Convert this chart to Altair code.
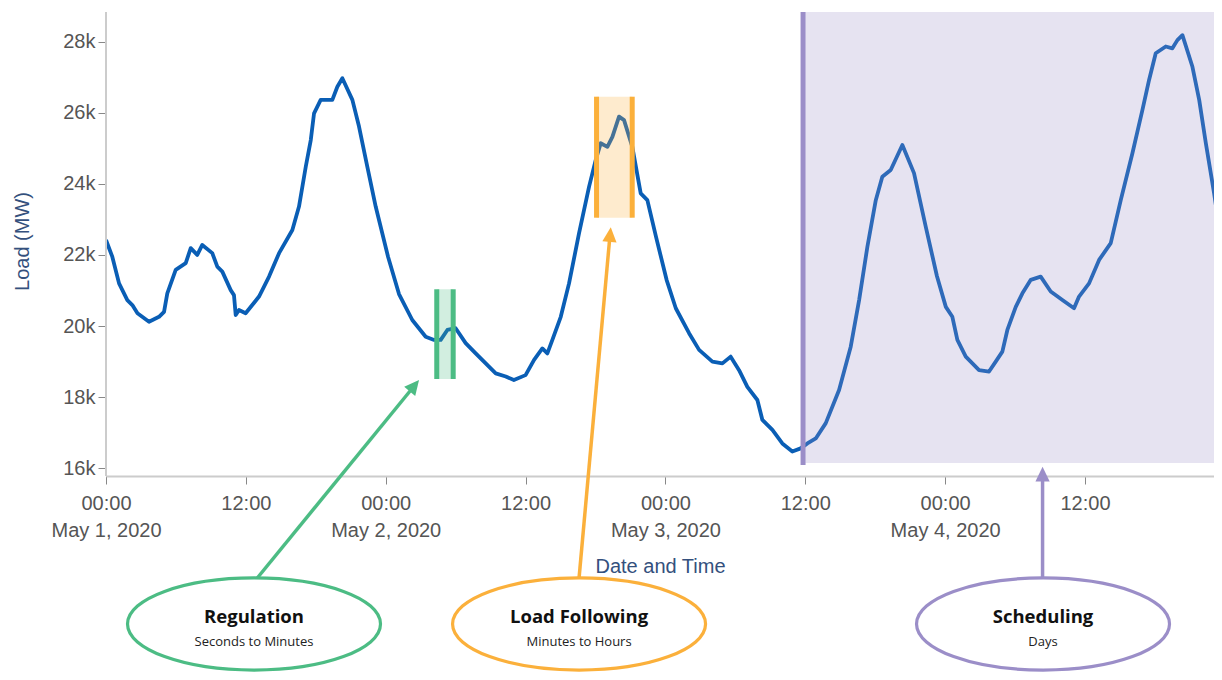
import altair as alt
import pandas as pd

# ---------------- data ----------------
T0 = pd.Timestamp("2020-05-01 00:00:00")

hours = [0.0, 0.54, 1.12, 1.83, 2.26, 2.7, 3.69, 4.55, 4.98, 5.26, 5.98, 6.84, 7.27, 7.83,
         8.26, 9.12, 9.55, 9.98, 10.7, 10.98, 11.13, 11.41, 11.98, 12.55, 13.13, 13.99,
         14.85, 15.99, 16.56, 17.14, 17.57, 17.85, 18.42, 19.42, 19.85, 20.28, 21.14,
         21.71, 22.42, 23.14, 24.2, 25.14, 26.28, 27.43, 28.15, 28.72, 29.29, 30.0,
         30.86, 31.72, 32.58, 33.44, 34.3, 35.0, 36.0, 36.73, 37.44, 37.87, 38.3, 39.02,
         39.73, 40.59, 41.45, 42.02, 42.45, 43.02, 43.45, 44.02, 44.45, 45.16, 45.88,
         46.45, 47.2, 48.1, 48.89, 50.03, 50.89, 52.03, 52.89, 53.6, 54.32, 55.03, 55.89,
         56.32, 57.18, 58.03, 58.89, 59.6, 60.18, 60.9, 61.76, 62.9, 63.9, 64.62, 65.33,
         66.05, 66.61, 67.33, 68.33, 69.33, 70.34, 71.3, 72.06, 72.62, 73.05, 73.77,
         74.91, 75.77, 76.34, 76.91, 77.34, 78.06, 78.63, 79.35, 80.2, 81.06, 82.06,
         83.06, 83.49, 84.35, 85.21, 86.21, 87.07, 88.07, 88.93, 89.5, 90.07, 90.93,
         91.5, 91.93, 92.36, 93.22, 93.8, 94.37, 95.08, 95.68]
load_mw = [22420, 21950, 21200, 20730, 20590, 20360, 20120, 20260, 20400, 20920, 21580, 21770,
           22190, 22000, 22280, 22050, 21670, 21530, 21010, 20870, 20310, 20450, 20360,
           20590, 20830, 21390, 22050, 22700, 23360, 24480, 25230, 25980, 26360, 26360,
           26730, 26970, 26360, 25610, 24480, 23360, 21950, 20900, 20170, 19700, 19610,
           19610, 19890, 19940, 19520, 19230, 18950, 18670, 18580, 18480, 18620, 19050,
           19370, 19230, 19610, 20260, 21200, 22610, 23920, 24670, 25140, 25040, 25320,
           25890, 25790, 25040, 23730, 23540, 22500, 21300, 20500, 19800, 19330, 19000,
           18950, 19140, 18760, 18290, 17920, 17360, 17080, 16700, 16470, 16560, 16700,
           16840, 17270, 18200, 19420, 20730, 22230, 23540, 24200, 24390, 25090, 24300,
           22790, 21400, 20540, 20260, 19610, 19140, 18760, 18720, 19000, 19280, 19890,
           20540, 20920, 21300, 21390, 20970, 20730, 20500, 20830, 21200, 21860, 22330,
           23540, 24860, 26080, 26920, 27670, 27860, 27810, 28040, 28180, 27290, 26360,
           25140, 23730, 22420]

x_end_h = 95.07              # right edge of the visible time window
y_ticks = [16000, 18000, 20000, 22000, 24000, 26000, 28000]
x_tick_hours = [0, 12, 24, 36, 48, 60, 72, 84]
y_domain = [10272, 28831]
x_axis_load = 15783          # load level where the time axis sits

# highlighted windows (rects)
win_start_h = [28.38, 42.09, 60.0]
win_end_h = [29.79, 45.15, x_end_h]
win_low = [18511, 23047, 16149]
win_high = [21034, 26449, 28831]
win_color = ["#4cbc84", "#fbb03b", "#9b8ec8"]

# solid edge bars
bar_h = [28.38, 29.79, 42.09, 45.15, 59.81]
bar_low = [18511, 18511, 23047, 23047, 16093]
bar_high = [21034, 21034, 26449, 26449, 28831]
bar_color = ["#4cbc84", "#4cbc84", "#fbb03b", "#fbb03b", "#9b8ec8"]

# arrows
arrow_from_h = [12.98, 40.59, 80.36]
arrow_from_load = [12915, 12915, 12915]
arrow_to_h = [26.09, 43.20, 80.36]
arrow_to_load = [18174, 22397, 15671]
tip_h = [26.86, 43.31, 80.36]
tip_load = [18483, 22777, 16045]
tip_angle = [39.4, 5.1, 0.0]

# ellipses and their labels
ell_h = [12.70, 40.59, 80.40]
ell_load = [11622, 11622, 11622]
ell_title = ["Regulation", "Load Following", "Scheduling"]
ell_sub = ["Seconds to Minutes", "Minutes to Hours", "Days"]
title_load = [11640, 11640, 11640]
sub_load = [11010, 11010, 11010]


def ts(h):
    return T0 + pd.to_timedelta(h, unit="h")


def dt(h):
    t = ts(h)
    return alt.DateTime(year=t.year, month=t.month, date=t.day,
                        hours=t.hour, minutes=t.minute, seconds=t.second)


line_df = pd.DataFrame({"time": [ts(h) for h in hours], "load": load_mw})
win_df = pd.DataFrame({"t1": [ts(h) for h in win_start_h], "t2": [ts(h) for h in win_end_h],
                       "low": win_low, "high": win_high, "color": win_color})
bar_df = pd.DataFrame({"time": [ts(h) for h in bar_h], "low": bar_low, "high": bar_high,
                       "color": bar_color})
arrow_df = pd.DataFrame({"t1": [ts(h) for h in arrow_from_h], "l1": arrow_from_load,
                         "t2": [ts(h) for h in arrow_to_h], "l2": arrow_to_load,
                         "tt": [ts(h) for h in tip_h], "lt": tip_load, "angle": tip_angle,
                         "color": win_color})
ell_df = pd.DataFrame({"time": [ts(h) for h in ell_h], "load": ell_load, "color": win_color,
                       "title": ell_title, "sub": ell_sub, "tl": title_load, "sl": sub_load})
yaxis_df = pd.DataFrame({"time": [T0], "low": [x_axis_load], "high": [y_domain[1]]})

FONT = "Liberation Sans"
TITLE_COLOR = "#34507d"
LABEL_COLOR = "#555555"

x_scale = alt.Scale(domain=[dt(0), dt(x_end_h)])
y_scale = alt.Scale(domain=y_domain, nice=False, zero=False)

x_enc = alt.X(
    "time:T", scale=x_scale,
    axis=alt.Axis(
        title="Date and Time", values=[dt(h) for h in x_tick_hours],
        labelExpr="hours(datum.value) == 0 ? [timeFormat(datum.value, '%H:%M'), timeFormat(datum.value, '%b %-d, %Y')] : timeFormat(datum.value, '%H:%M')",
        offset=-196, tickSize=8, labelPadding=9, labelFontSize=20, labelFont=FONT,
        labelColor=LABEL_COLOR, labelLineHeight=27, labelFlush=False,
        titleFont=FONT, titleFontSize=20, titleFontWeight="normal", titleColor=TITLE_COLOR,
        titlePadding=16, domainColor="#cccccc", domainWidth=2, tickColor="#888888",
        grid=False,
    ),
)
y_enc = alt.Y(
    "load:Q", scale=y_scale,
    axis=alt.Axis(
        title="Load (MW)", values=y_ticks, format="~s", domain=False, grid=False,
        tickSize=8, labelPadding=3, labelFontSize=20, labelFont=FONT, labelColor=LABEL_COLOR,
        tickColor="#888888", titleFont=FONT, titleFontSize=20, titleFontWeight="normal",
        titleColor=TITLE_COLOR, titlePadding=30, titleY=229,
    ),
)

base_line = alt.Chart(line_df).mark_line(color="#0a5eb5", strokeWidth=3.8,
                                          strokeJoin="round", clip=True).encode(x=x_enc, y=y_enc)

yaxis_line = alt.Chart(yaxis_df).mark_rule(color="#cccccc", strokeWidth=2).encode(
    x="time:T", y="low:Q", y2="high:Q")

windows = alt.Chart(win_df).mark_rect(opacity=0.25).encode(
    x="t1:T", x2="t2:T", y="low:Q", y2="high:Q", color=alt.Color("color:N", scale=None))

bars = alt.Chart(bar_df).mark_rule(strokeWidth=5).encode(
    x="time:T", y="low:Q", y2="high:Q", color=alt.Color("color:N", scale=None))

shafts = alt.Chart(arrow_df).mark_rule(strokeWidth=3.5).encode(
    x="t1:T", y="l1:Q", x2="t2:T", y2="l2:Q", color=alt.Color("color:N", scale=None))

heads = alt.Chart(arrow_df).mark_point(
    shape="M 0 0 L 0.75 1.55 L -0.75 1.55 Z", filled=True, size=361, opacity=1).encode(
    x="tt:T", y="lt:Q", angle=alt.Angle("angle:Q", scale=None),
    color=alt.Color("color:N", scale=None))

ELLIPSE = ("M -1 0 C -1 -0.201 -0.5523 -0.364 0 -0.364 C 0.5523 -0.364 1 -0.201 1 0 "
           "C 1 0.201 0.5523 0.364 0 0.364 C -0.5523 0.364 -1 0.201 -1 0 Z")
ellipses = alt.Chart(ell_df).mark_point(
    shape=ELLIPSE, filled=False, size=64009, strokeWidth=3.2, opacity=1).encode(
    x="time:T", y="load:Q", stroke=alt.Stroke("color:N", scale=None))

titles = alt.Chart(ell_df).mark_text(
    font="Open Sans", fontSize=18.5, fontWeight="bold", color="#111111",
    baseline="alphabetic").encode(x="time:T", y="tl:Q", text="title:N")

subs = alt.Chart(ell_df).mark_text(
    font="Open Sans", fontSize=13, color="#222222", baseline="alphabetic").encode(
    x="time:T", y="sl:Q", text="sub:N")

chart = alt.layer(
    base_line, yaxis_line, windows, bars, shafts, heads, ellipses, titles, subs
).properties(
    width=1108, height=660,
    padding={"left": 98, "top": 4, "right": 0, "bottom": 0},
    autosize=alt.AutoSizeParams(type="none"),
).configure_view(stroke=None)

chart.save("out.html", embed_options={"renderer": "svg", "actions": False})
